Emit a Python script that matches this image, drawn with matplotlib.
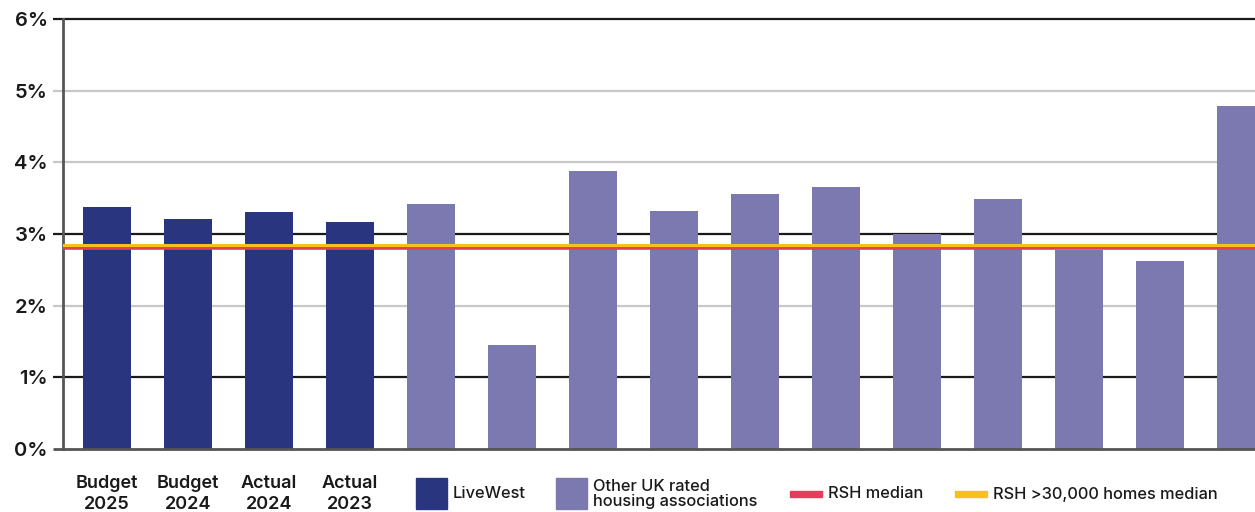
## livewest_cost_ratio_bar: bar chart with RSH median lines
# -----------------------------------------------------------------------------
import matplotlib
matplotlib.use('Agg')
from matplotlib import (pyplot as plt, patches as pat)

plt.rcParams['font.family'] = ['Inter', 'DejaVu Sans']

# -----------------------------------------------------------------------------
# data: percentages per bar
lw_labels = ['Budget\n2025', 'Budget\n2024', 'Actual\n2024', 'Actual\n2023']
lw_vals = [3.38, 3.21, 3.31, 3.17]
oth_vals = [3.42, 1.45, 3.88, 3.32, 3.56, 3.65, 3.00, 3.49, 2.78, 2.62, 4.78]
rsh_median = 2.81
rsh_big_median = 2.84
yticks = [0, 1, 2, 3, 4, 5, 6]
ytick_labels = ['0%', '1%', '2%', '3%', '4%', '5%', '6%']

# -----------------------------------------------------------------------------
clr_lw, clr_oth = '#29357f', '#7b79b0'
clr_red, clr_yel = '#e63d5c', '#f8c01c'
grid_clr = {0: '#555555', 1: '#1a1a1a', 2: '#c8c8c8', 3: '#1a1a1a',
            4: '#c8c8c8', 5: '#c8c8c8', 6: '#1a1a1a'}

fig = plt.figure(figsize=(12.55, 5.12), dpi=100)
ax = fig.add_axes([0.0502, 0.123, 0.9498, 0.840])

xs_lw = list(range(len(lw_vals)))
xs_oth = [len(lw_vals) + i for i in range(len(oth_vals))]
ax.bar(xs_lw, lw_vals, width=0.595, color=clr_lw, zorder=2)
ax.bar(xs_oth, oth_vals, width=0.595, color=clr_oth, zorder=2)

# grid lines run a little past the left spine
for yv in yticks:
    ax.plot([-0.0085, 1], [yv, yv], transform=ax.get_yaxis_transform(),
            color=grid_clr[yv], linewidth=2.0 if yv == 0 else 1.6,
            clip_on=False, zorder=1 if yv else 3, solid_capstyle='butt')

ax.axhline(rsh_median, color=clr_red, linewidth=2.6, zorder=4)
ax.axhline(rsh_big_median, color=clr_yel, linewidth=2.2, zorder=5)

ax.set_xlim(-0.543, 14.17)
ax.set_ylim(0, 6)
for sp in ('top', 'right', 'bottom'):
    ax.spines[sp].set_visible(False)
ax.spines['left'].set_color('#555555')
ax.spines['left'].set_linewidth(2.0)
ax.spines['left'].set_zorder(3)

ax.set_yticks(yticks)
ax.set_yticklabels(ytick_labels, fontsize=14.5, fontweight='semibold', color='#1a1a1a')
ax.tick_params(axis='y', length=0, pad=11)
ax.set_xticks(xs_lw)
ax.set_xticklabels(lw_labels, fontsize=13, fontweight='semibold', color='#1a1a1a',
                   linespacing=1.25)
ax.tick_params(axis='x', length=0, pad=19)

# -----------------------------------------------------------------------------
# legend drawn in figure pixels
W, H = 1255, 512
def box(x0, y0, w, h, clr):
    fig.patches.append(pat.Rectangle((x0 / W, 1 - (y0 + h) / H), w / W, h / H,
                                     transform=fig.transFigure, color=clr))
def txt(x0, yc, s):
    fig.text(x0 / W, 1 - yc / H, s, fontsize=11.8, fontweight='medium',
             color='#1a1a1a', va='center', ha='left', linespacing=0.95)

box(416, 478, 31, 31, clr_lw); txt(453, 494, 'LiveWest')
box(556, 478, 31, 31, clr_oth); txt(593, 494, 'Other UK rated\nhousing associations')
box(790, 491, 32, 6, clr_red); txt(828, 494, 'RSH median')
box(955, 491, 32, 6, clr_yel); txt(993, 494, 'RSH >30,000 homes median')

fig.savefig('out.png', dpi=100)
